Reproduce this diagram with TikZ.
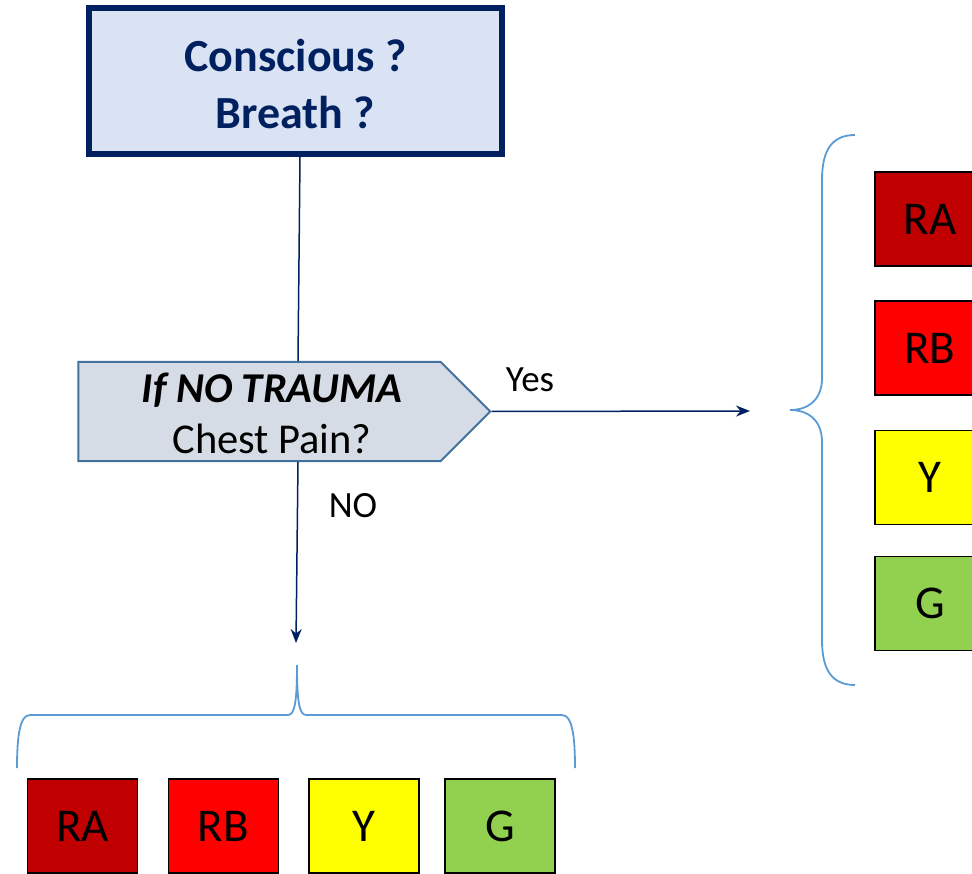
\documentclass[tikz,border=0pt]{standalone}
\usepackage{fontspec}
\setmainfont{Carlito}
\usetikzlibrary{arrows.meta,shapes.symbols}
\definecolor{navy}{HTML}{002060}
\definecolor{topfill}{HTML}{DAE3F3}
\definecolor{qfill}{HTML}{D6DCE5}
\definecolor{qedge}{HTML}{41719C}
\definecolor{bracecol}{HTML}{5B9BD5}
\definecolor{cRA}{HTML}{C00000}
\definecolor{cRB}{HTML}{FF0000}
\definecolor{cY}{HTML}{FFFF00}
\definecolor{cG}{HTML}{92D050}
\begin{document}
\begin{tikzpicture}[x=1pt,y=-1pt,
  topbox/.style={draw=navy, fill=topfill, line width=6pt, minimum width=413pt,
    minimum height=146pt, inner sep=0pt, align=center, text=navy,
    font=\fontsize{46}{57}\selectfont\bfseries},
  question/.style={signal, signal to=east, draw=qedge, fill=qfill, line width=2pt,
    minimum width=412pt, minimum height=99pt, inner sep=0pt},
  qtext/.style={align=center, inner sep=0pt, font=\fontsize{42.5}{51}\selectfont},
  flow/.style={draw=navy, line width=1.5pt},
  flowarrow/.style={flow, -{Stealth[length=14pt,width=11pt]}},
  answer/.style={font=\fontsize{37}{44}\selectfont, inner sep=0pt},
  bracket/.style={draw=bracecol, line width=1.8pt},
  cbox/.style={draw=black, line width=1.8pt, minimum width=110pt, minimum height=94pt,
    inner sep=0pt, font=\fontsize{47}{54}\selectfont}]
\useasboundingbox (0,0) rectangle (972,874);
\clip (0,0) rectangle (972,874);

% first check (text lowered a little inside the frame)
\node[topbox] (top) at (295.5,81)
  {\raisebox{-3pt}[\height][\depth]{\parbox{400pt}{\centering Conscious ?\\Breath ?}}};

% chest pain question (the signal's centre is the centre of its body)
\node[question] (q) at (259.5,411.5) {};
\node[qtext] (qt) at (272,413) {\textbf{\textit{If NO TRAUMA}}\\Chest Pain?};

% connectors
\coordinate (yesend) at (750,411);
\coordinate (noend) at (296,643);
\draw[flow] ([xshift=4.5pt]top.south) -- ([xshift=38.5pt]q.north);
\draw[flowarrow] (q.east) -- (yesend);
\draw[flowarrow] ([xshift=38.5pt]q.south) -- (noend);

\node[answer] (yes) at (530,380) {Yes};
\node[answer] (no) at (353,506) {NO};

% right bracket
\draw[bracket] (855,135) .. controls (832,135) and (822,150) .. (822,180)
  -- (822,378) .. controls (822,400) and (808,410) .. (790,410)
  .. controls (808,410) and (822,420) .. (822,442)
  -- (822,640) .. controls (822,670) and (832,685) .. (855,685);

% bottom bracket
\draw[bracket] (17,768) .. controls (17,735) and (20,715) .. (30,715)
  -- (288,715) .. controls (295,715) and (297,700) .. (297,665)
  .. controls (297,700) and (299,715) .. (306,715)
  -- (562,715) .. controls (572,715) and (575,735) .. (575,768);

% triage colours, right column
\node[cbox, fill=cRA] (rRA) at (930,219) {RA};
\node[cbox, fill=cRB] (rRB) at (930,348) {RB};
\node[cbox, fill=cY]  (rY)  at (930,477.5) {Y};
\node[cbox, fill=cG]  (rG)  at (930,603.5) {G};

% triage colours, bottom row
\node[cbox, fill=cRA] (bRA) at (82.5,826) {RA};
\node[cbox, fill=cRB] (bRB) at (223.5,826) {RB};
\node[cbox, fill=cY]  (bY)  at (364,826) {Y};
\node[cbox, fill=cG]  (bG)  at (500,826) {G};
\end{tikzpicture}
\end{document}
